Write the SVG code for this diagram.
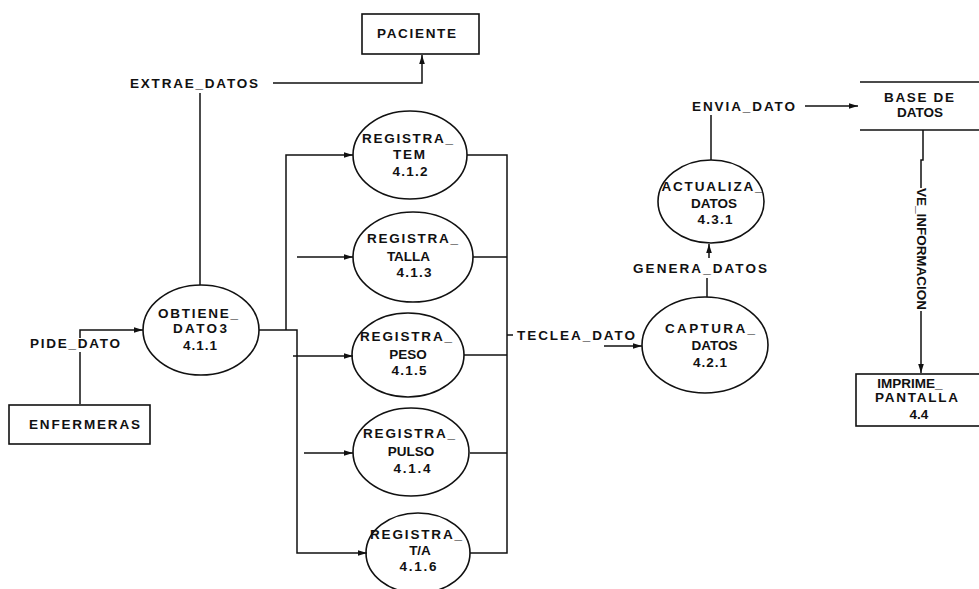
<svg xmlns="http://www.w3.org/2000/svg" width="979" height="589" viewBox="0 0 979 589">
  <style>
    .bg { fill: #ffffff; }
    .shape { fill: none; stroke: #111111; stroke-width: 1.6; }
    .line { fill: none; stroke: #111111; stroke-width: 1.5; }
    .lbl { font-family: "Liberation Sans", Arial, sans-serif; font-weight: bold; font-size: 13.5px; fill: #111111; text-anchor: middle; }
  </style>
  <defs>
    <marker id="arrow" markerUnits="userSpaceOnUse" markerWidth="10" markerHeight="8" refX="9" refY="4" orient="auto">
      <path d="M0,1.2 L9,4 L0,6.8 Z" fill="#111111"/>
    </marker>
  </defs>

  <rect class="bg" x="0" y="0" width="979" height="589"/>

  <!-- data flows -->
  <g id="connectors">
    <!-- EXTRAE_DATOS -->
    <path class="line" d="M273,83 H422 V55" marker-end="url(#arrow)"/>
    <path class="line" d="M200,93 V285"/>
    <!-- PIDE_DATO -->
    <path class="line" d="M80,404 V352"/>
    <path class="line" d="M80,338 V330 H143" marker-end="url(#arrow)"/>
    <!-- fan-out from OBTIENE_DATO3 -->
    <path class="line" d="M259,330 H297 V553 H367" marker-end="url(#arrow)"/>
    <path class="line" d="M286,330 V155 H353" marker-end="url(#arrow)"/>
    <path class="line" d="M297,257 H353" marker-end="url(#arrow)"/>
    <path class="line" d="M293,356 H353" marker-end="url(#arrow)"/>
    <path class="line" d="M304,453 H353" marker-end="url(#arrow)"/>
    <!-- collector into TECLEA_DATO -->
    <path class="line" d="M467,155 H507 V553 H470"/>
    <path class="line" d="M473,257 H507"/>
    <path class="line" d="M464,355 H507"/>
    <path class="line" d="M470,453 H507"/>
    <path class="line" d="M507,335 H513"/>
    <path class="line" d="M604,346 H642" marker-end="url(#arrow)"/>
    <!-- GENERA_DATOS -->
    <path class="line" d="M707,297 V278"/>
    <path class="line" d="M709,258 V244" marker-end="url(#arrow)"/>
    <!-- ENVIA_DATO -->
    <path class="line" d="M711,115 V160"/>
    <path class="line" d="M805,106 H858" marker-end="url(#arrow)"/>
    <!-- VE_INFORMACION -->
    <path class="line" d="M923,130 V160 H921 V188"/>
    <path class="line" d="M921,311 V373" marker-end="url(#arrow)"/>
  </g>

  <!-- flow labels -->
  <g id="flow-labels">
    <text class="lbl" x="194" y="88" textLength="128" lengthAdjust="spacing">EXTRAE_DATOS</text>
    <text class="lbl" x="75" y="348" textLength="90" lengthAdjust="spacing">PIDE_DATO</text>
    <text class="lbl" x="576" y="340" textLength="118" lengthAdjust="spacing">TECLEA_DATO</text>
    <text class="lbl" x="700" y="273" textLength="134" lengthAdjust="spacing">GENERA_DATOS</text>
    <text class="lbl" x="743.5" y="111" textLength="103" lengthAdjust="spacing">ENVIA_DATO</text>
    <text class="lbl" transform="translate(917,249) rotate(90)" x="0" y="0" font-size="11" textLength="122" lengthAdjust="spacing">VE_INFORMACION</text>
  </g>

  <!-- external entities -->
  <g id="paciente">
    <rect class="shape" x="362" y="14" width="117" height="40"/>
    <text class="lbl" x="416.5" y="38" textLength="79" lengthAdjust="spacing">PACIENTE</text>
  </g>
  <g id="enfermeras">
    <rect class="shape" x="9" y="405" width="141" height="39"/>
    <text class="lbl" x="84.5" y="429" textLength="111" lengthAdjust="spacing">ENFERMERAS</text>
  </g>

  <!-- processes -->
  <g id="obtiene-datos">
    <ellipse class="shape" cx="201" cy="330" rx="58" ry="45"/>
    <text class="lbl" x="198" y="318" textLength="80" lengthAdjust="spacing">OBTIENE_</text>
    <text class="lbl" x="200" y="333" textLength="54" lengthAdjust="spacing">DATO3</text>
    <text class="lbl" x="200" y="350" textLength="34" lengthAdjust="spacing">4.1.1</text>
  </g>
  <g id="registra-tem">
    <ellipse class="shape" cx="410" cy="155" rx="57" ry="44"/>
    <text class="lbl" x="407.5" y="143" textLength="91" lengthAdjust="spacing">REGISTRA_</text>
    <text class="lbl" x="409" y="159" textLength="32" lengthAdjust="spacing">TEM</text>
    <text class="lbl" x="410" y="176" textLength="35" lengthAdjust="spacing">4.1.2</text>
  </g>
  <g id="registra-talla">
    <ellipse class="shape" cx="413" cy="257" rx="60" ry="45"/>
    <text class="lbl" x="412.5" y="243" textLength="91" lengthAdjust="spacing">REGISTRA_</text>
    <text class="lbl" x="408.5" y="261">TALLA</text>
    <text class="lbl" x="414" y="277" textLength="35" lengthAdjust="spacing">4.1.3</text>
  </g>
  <g id="registra-peso">
    <ellipse class="shape" cx="408" cy="355" rx="56" ry="42"/>
    <text class="lbl" x="406" y="341" textLength="92" lengthAdjust="spacing">REGISTRA_</text>
    <text class="lbl" x="408" y="359">PESO</text>
    <text class="lbl" x="409" y="375" textLength="35" lengthAdjust="spacing">4.1.5</text>
  </g>
  <g id="registra-pulso">
    <ellipse class="shape" cx="411" cy="452" rx="58" ry="44"/>
    <text class="lbl" x="409" y="438" textLength="92" lengthAdjust="spacing">REGISTRA_</text>
    <text class="lbl" x="411" y="456">PULSO</text>
    <text class="lbl" x="412" y="473" textLength="37" lengthAdjust="spacing">4.1.4</text>
  </g>
  <g id="registra-ta">
    <ellipse class="shape" cx="418" cy="553" rx="52" ry="40"/>
    <text class="lbl" x="416" y="539" textLength="92" lengthAdjust="spacing">REGISTRA_</text>
    <text class="lbl" x="420" y="555">T/A</text>
    <text class="lbl" x="418" y="571" textLength="37" lengthAdjust="spacing">4.1.6</text>
  </g>
  <g id="captura-datos">
    <ellipse class="shape" cx="705" cy="345" rx="63" ry="48"/>
    <text class="lbl" x="710" y="333" textLength="90" lengthAdjust="spacing">CAPTURA_</text>
    <text class="lbl" x="714.5" y="350">DATOS</text>
    <text class="lbl" x="710" y="367" textLength="34" lengthAdjust="spacing">4.2.1</text>
  </g>
  <g id="actualiza-datos">
    <ellipse class="shape" cx="711" cy="201.5" rx="53" ry="41.5"/>
    <text class="lbl" x="712" y="191" textLength="101" lengthAdjust="spacing">ACTUALIZA_</text>
    <text class="lbl" x="714" y="208">DATOS</text>
    <text class="lbl" x="715" y="224" textLength="35" lengthAdjust="spacing">4.3.1</text>
  </g>

  <!-- data store -->
  <g id="base-de-datos">
    <path class="shape" d="M860,82 H979 M860,130 H979"/>
    <text class="lbl" x="919" y="102" textLength="70" lengthAdjust="spacing">BASE DE</text>
    <text class="lbl" x="920" y="117">DATOS</text>
  </g>

  <g id="imprime-pantalla">
    <rect class="shape" x="856" y="374" width="130" height="52"/>
    <text class="lbl" x="910" y="388">IMPRIME_</text>
    <text class="lbl" x="916.5" y="402" textLength="83" lengthAdjust="spacing">PANTALLA</text>
    <text class="lbl" x="919" y="419">4.4</text>
  </g>
</svg>
